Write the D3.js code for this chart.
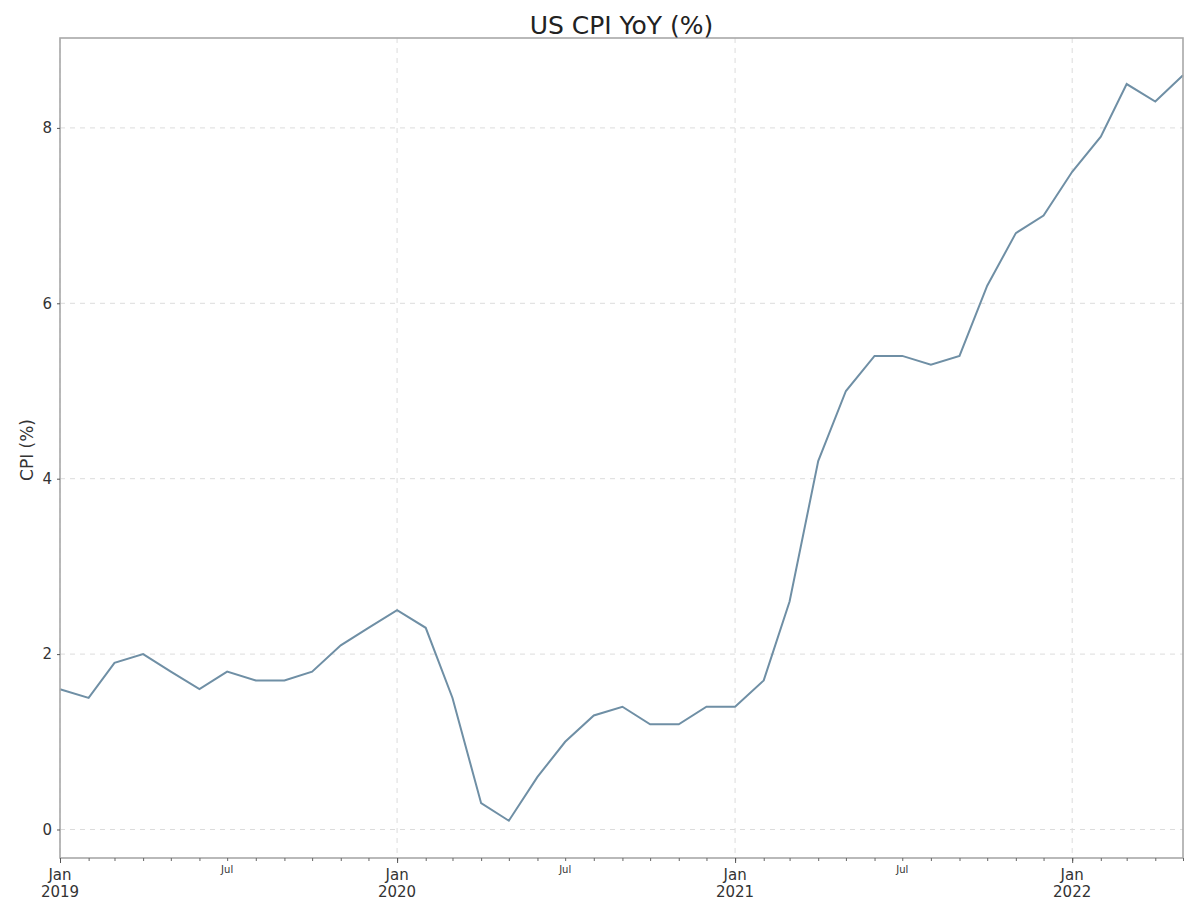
<!DOCTYPE html>
<html><head><meta charset="utf-8">
<script src="https://cdn.jsdelivr.net/npm/d3@7"></script>
<style>body{margin:0;background:#fff;} svg{display:block;} text{font-family:"DejaVu Sans",sans-serif;}</style>
</head><body>
<svg id="c" width="1200" height="907"></svg>
<script>
const startMonth = "2019-01";
const cpiValues = [
  1.6, 1.5, 1.9, 2.0, 1.8, 1.6, 1.8, 1.7, 1.7, 1.8, 2.1, 2.3,
  2.5, 2.3, 1.5, 0.3, 0.1, 0.6, 1.0, 1.3, 1.4, 1.2, 1.2, 1.4,
  1.4, 1.7, 2.6, 4.2, 5.0, 5.4, 5.4, 5.3, 5.4, 6.2, 6.8, 7.0,
  7.5, 7.9, 8.5, 8.3, 8.6
];
const yTicks = [0, 2, 4, 6, 8];
const title = "US CPI YoY (%)";
const yLabel = "CPI (%)";

const parse = d3.timeParse("%Y-%m");
const t0 = parse(startMonth);
const data = cpiValues.map((v, i) => ({date: d3.timeMonth.offset(t0, i), value: v}));

const svg = d3.select("#c");
const L = 60, R = 1183, T = 38, B = 858;
const x = d3.scaleTime().domain(d3.extent(data, d => d.date)).range([L, R]);
const ymin = d3.min(cpiValues), ymax = d3.max(cpiValues), pad = (ymax - ymin) * 0.05;
const y = d3.scaleLinear().domain([ymin - pad, ymax + pad]).range([B, T]);

const gridColor = "#dcdcdc";
// grid
const yearTicks = d3.timeYear.range(x.domain()[0], d3.timeDay.offset(x.domain()[1], 1));
svg.append("g").selectAll("line").data(yearTicks).join("line")
  .attr("x1", d => x(d)).attr("x2", d => x(d)).attr("y1", T).attr("y2", B)
  .attr("stroke", gridColor).attr("stroke-dasharray", "5,5").attr("stroke-width", 1);
svg.append("g").selectAll("line").data(yTicks).join("line")
  .attr("x1", L).attr("x2", R).attr("y1", d => y(d)).attr("y2", d => y(d))
  .attr("stroke", gridColor).attr("stroke-dasharray", "5,5").attr("stroke-width", 1);

// line
svg.append("path").datum(data)
  .attr("d", d3.line().x(d => x(d.date)).y(d => y(d.value)))
  .attr("fill", "none").attr("stroke", "#6f8fa5").attr("stroke-width", 2);

// frame
svg.append("rect").attr("x", L).attr("y", T).attr("width", R - L).attr("height", B - T)
  .attr("fill", "none").attr("stroke", "#a8a8a8").attr("stroke-width", 1.6);

// y axis
const yAxis = d3.axisLeft(y).tickValues(yTicks).tickSize(3).tickPadding(5).tickFormat(d3.format("d"));
const gy = svg.append("g").attr("transform", `translate(${L},0)`).call(yAxis);
gy.select(".domain").remove();
gy.selectAll("line").attr("stroke", "#555");
gy.selectAll("text").attr("font-size", 15).attr("fill", "#333");

// x axis minor ticks
const months = d3.timeMonth.range(x.domain()[0], d3.timeDay.offset(x.domain()[1], 1));
const gxm = svg.append("g").attr("transform", `translate(0,${B})`)
  .call(d3.axisBottom(x).tickValues(months).tickSize(3).tickFormat(""));
gxm.select(".domain").remove();
gxm.selectAll("line").attr("stroke", "#666");

// major labels
const gx = svg.append("g").attr("transform", `translate(0,${B})`)
  .call(d3.axisBottom(x).tickValues(yearTicks).tickSize(5).tickFormat(""));
gx.select(".domain").remove();
gx.selectAll("line").attr("stroke", "#555");
const lab = svg.append("g");
yearTicks.forEach(d => {
  const t = lab.append("text").attr("x", x(d)).attr("y", B + 22).attr("text-anchor", "middle")
    .attr("font-size", 15).attr("fill", "#333");
  t.append("tspan").attr("x", x(d)).text(d3.timeFormat("%b")(d));
  t.append("tspan").attr("x", x(d)).attr("dy", 17).text(d3.timeFormat("%Y")(d));
});
const julTicks = months.filter(d => d.getMonth() === 6);
lab.selectAll(".jul").data(julTicks).join("text")
  .attr("x", d => x(d)).attr("y", B + 15).attr("text-anchor", "middle")
  .attr("font-size", 10).attr("fill", "#333").text(d => d3.timeFormat("%b")(d));

// title
svg.append("text").attr("x", (L + R) / 2).attr("y", 34).attr("text-anchor", "middle")
  .attr("font-size", 25).attr("fill", "#222").text(title);
// y label
svg.append("text").attr("transform", `translate(33,${(T + B) / 2 + 2}) rotate(-90)`)
  .attr("text-anchor", "middle").attr("font-size", 17).attr("fill", "#333").text(yLabel);
</script>
</body></html>
